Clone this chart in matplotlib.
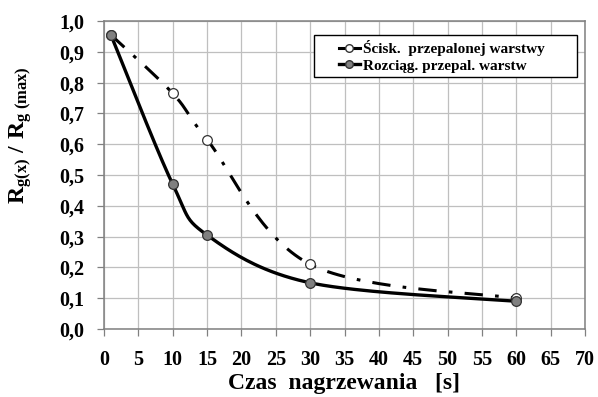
import matplotlib.pyplot as plt
import numpy as np
from matplotlib.legend_handler import HandlerLine2D

# Data
czas = [1, 10, 15, 30, 60]
sciskanie = [0.955, 0.765, 0.615, 0.21, 0.10]
rozciaganie = [0.955, 0.47, 0.305, 0.15, 0.09]

x_ticks = list(range(0, 71, 5))
y_ticks = [i / 10 for i in range(0, 11)]


def smooth_line(xs, ys, n=40):
    """Excel-like smoothed line (cubic Bezier through the points)."""
    xs = np.asarray(xs, float)
    ys = np.asarray(ys, float)
    px = np.concatenate([[xs[0]], xs, [xs[-1]]])
    py = np.concatenate([[ys[0]], ys, [ys[-1]]])
    out_x, out_y = [], []
    t = np.linspace(0, 1, n)
    for i in range(1, len(px) - 2):
        p0 = np.array([px[i], py[i]])
        p3 = np.array([px[i + 1], py[i + 1]])
        p1 = p0 + (np.array([px[i + 1], py[i + 1]]) - np.array([px[i - 1], py[i - 1]])) / 6
        p2 = p3 - (np.array([px[i + 2], py[i + 2]]) - np.array([px[i], py[i]])) / 6
        b = ((1 - t) ** 3)[:, None] * p0 + (3 * (1 - t) ** 2 * t)[:, None] * p1 \
            + (3 * (1 - t) * t ** 2)[:, None] * p2 + (t ** 3)[:, None] * p3
        out_x.extend(b[:, 0])
        out_y.extend(b[:, 1])
    return out_x, out_y


class ShortHandle(HandlerLine2D):
    # draw the legend line only on the right part of the handle box (Excel style)
    def create_artists(self, legend, orig_handle, xdescent, ydescent, width,
                       height, fontsize, trans):
        cut = width * 0.49
        return super().create_artists(legend, orig_handle, xdescent - cut, ydescent,
                                      width - cut, height, fontsize, trans)


plt.rcParams['font.family'] = 'Liberation Serif'
plt.rcParams['font.weight'] = 'bold'
plt.rcParams['mathtext.fontset'] = 'custom'
plt.rcParams['mathtext.rm'] = 'Liberation Serif:bold'
plt.rcParams['mathtext.bf'] = 'Liberation Serif:bold'
plt.rcParams['mathtext.it'] = 'Liberation Serif:bold'

fig = plt.figure(figsize=(5.98, 3.97), dpi=100)
ax = fig.add_axes([104 / 598, 1 - 329 / 397, 481 / 598, 308 / 397])

grid_col = '#bfbfbf'
ax.set_xlim(0, 70)
ax.set_ylim(0, 1.0)
ax.set_xticks(x_ticks)
ax.set_yticks(y_ticks)
ax.set_xticklabels([str(v) for v in x_ticks], fontsize=14.5, fontweight='bold')
ax.set_yticklabels([f'{v:.1f}'.replace('.', ',') for v in y_ticks], fontsize=14.5, fontweight='bold')
ax.grid(True, color=grid_col, linewidth=0.9)
ax.set_axisbelow(True)
ax.tick_params(direction='out', length=5, color='#808080', width=0.9)
ax.tick_params(axis='x', pad=10)
ax.tick_params(axis='y', pad=9)
for side in ['left', 'bottom', 'top', 'right']:
    ax.spines[side].set_color('#808080')
    ax.spines[side].set_linewidth(1.1)

# dash-dot series (compression)
sx, sy = smooth_line(czas, sciskanie)
ax.plot(sx, sy, color='black', linewidth=2.2, dashes=(6, 4, 1.2, 4))
ax.plot(czas, sciskanie, linestyle='none', marker='o', markersize=7,
        markerfacecolor='white', markeredgecolor='#333333', markeredgewidth=0.9)

# solid series (tension)
rx, ry = smooth_line(czas, rozciaganie)
ax.plot(rx, ry, color='black', linewidth=2.4)
ax.plot(czas, rozciaganie, linestyle='none', marker='o', markersize=7,
        markerfacecolor='#808080', markeredgecolor='#333333', markeredgewidth=0.9)

# legend handles
h1, = ax.plot([], [], color='black', linewidth=2.2, marker='o', markersize=5.5,
              markerfacecolor='white', markeredgecolor='#333333')
h2, = ax.plot([], [], color='black', linewidth=2.4, marker='o', markersize=5.5,
              markerfacecolor='#808080', markeredgecolor='#333333')
leg = ax.legend([h1, h2], ['Ścisk.  przepalonej warstwy' + ' ' * 7, 'Rozciąg. przepal. warstw'],
                handler_map={h1: ShortHandle(), h2: ShortHandle()},
                loc='upper right', bbox_to_anchor=(0.983, 0.953), fancybox=False,
                framealpha=1, edgecolor='black', handlelength=2.7, handletextpad=0.25,
                borderpad=0.3, labelspacing=0.2, borderaxespad=0,
                prop={'family': 'Liberation Serif', 'weight': 'bold', 'size': 11})
leg.get_frame().set_linewidth(1.0)

ax.set_xlabel('Czas  nagrzewania   [s]', fontsize=17, fontweight='bold', labelpad=2)
ax.set_ylabel(r'$\mathbf{R_{g(x)}\ /\ R_{g\ (max)}}$', fontsize=17)
ax.yaxis.set_label_coords(-0.146, 0.63)

fig.savefig('out.png', dpi=100)
